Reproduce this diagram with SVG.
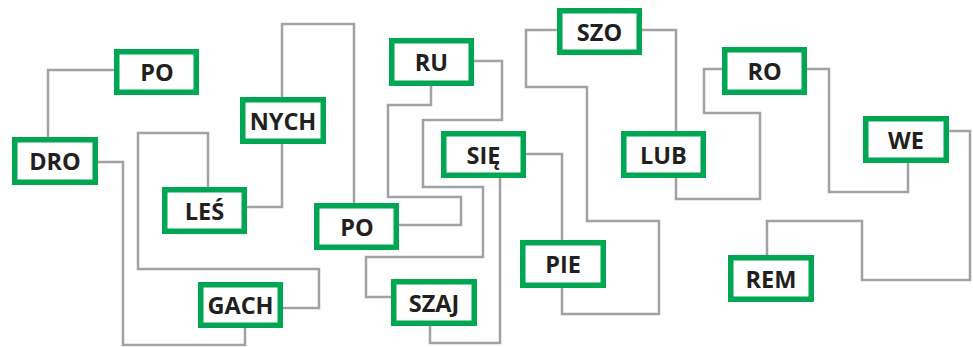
<svg xmlns="http://www.w3.org/2000/svg" width="973" height="347" viewBox="0 0 973 347">
<style>
.c{fill:none;stroke:#a0a2a5;stroke-width:2.5}
.n rect{fill:#fff;stroke:#00a651;stroke-width:5.5}
.n text{font-family:"Open Sans","Liberation Sans",sans-serif;font-weight:700;font-size:23.5px;fill:#231f20;text-anchor:middle}
</style>
<rect width="973" height="347" fill="#fff"/>
<g id="connectors">
<path class="c" d="M114,70 H48 V137"/>
<path class="c" d="M98,162 H123 V345 H245 V328"/>
<path class="c" d="M208,187 V133 H138 V269 H319 V308 H283"/>
<path class="c" d="M247,207 H282 V144"/>
<path class="c" d="M282,97 V24 H354 V203"/>
<path class="c" d="M431,86 V105 H388 V197 H461 V225 H399"/>
<path class="c" d="M474,61 H502 V120 H423 V187 H483 V257 H366 V297 H391"/>
<path class="c" d="M526,154 H562 V240"/>
<path class="c" d="M500,178 V343 H430 V326"/>
<path class="c" d="M557,30 H526 V87 H587 V221 H659 V314 H562 V288"/>
<path class="c" d="M642,30 H676 V131"/>
<path class="c" d="M676,178 V199 H760 V113 H704 V69 H722"/>
<path class="c" d="M807,69 H829 V192 H908 V163"/>
<path class="c" d="M949,131 H970 V280 H862 V221 H767 V255"/>
</g>
<g id="po1" class="n"><rect x="116.75" y="51.75" width="79.5" height="40.5"/><text x="157" y="81">PO</text></g>
<g id="dro" class="n"><rect x="14.75" y="139.75" width="80.5" height="42.5"/><text x="55" y="170">DRO</text></g>
<g id="les" class="n"><rect x="164.75" y="189.75" width="79.5" height="41.5"/><text x="204.5" y="219.5">LEŚ</text></g>
<g id="gach" class="n"><rect x="200.75" y="284.75" width="79.5" height="40.5"/><text x="240.5" y="314">GACH</text></g>
<g id="nych" class="n"><rect x="242.75" y="99.75" width="80.5" height="41.5"/><text x="283" y="129.5">NYCH</text></g>
<g id="po2" class="n"><rect x="316.75" y="205.75" width="79.5" height="41.5"/><text x="357" y="235.5">PO</text></g>
<g id="ru" class="n"><rect x="391.75" y="40.75" width="79.5" height="42.5"/><text x="431.5" y="71">RU</text></g>
<g id="sie" class="n"><rect x="443.75" y="133.75" width="79.5" height="41.5"/><text x="483.5" y="163.5">SIĘ</text></g>
<g id="szaj" class="n"><rect x="393.75" y="281.75" width="80.5" height="41.5"/><text x="434" y="311.5">SZAJ</text></g>
<g id="szo" class="n"><rect x="559.75" y="10.75" width="79.5" height="41.5"/><text x="599.5" y="40.5">SZO</text></g>
<g id="lub" class="n"><rect x="623.75" y="133.75" width="79.5" height="41.5"/><text x="663.5" y="163.5">LUB</text></g>
<g id="pie" class="n"><rect x="522.75" y="242.75" width="80.5" height="42.5"/><text x="563" y="273">PIE</text></g>
<g id="ro" class="n"><rect x="724.75" y="49.75" width="79.5" height="42.5"/><text x="764.5" y="80">RO</text></g>
<g id="we" class="n"><rect x="865.75" y="118.75" width="80.5" height="41.5"/><text x="906" y="148.5">WE</text></g>
<g id="rem" class="n"><rect x="730.75" y="257.75" width="80.5" height="41.5"/><text x="771" y="287.5">REM</text></g>
</svg>
